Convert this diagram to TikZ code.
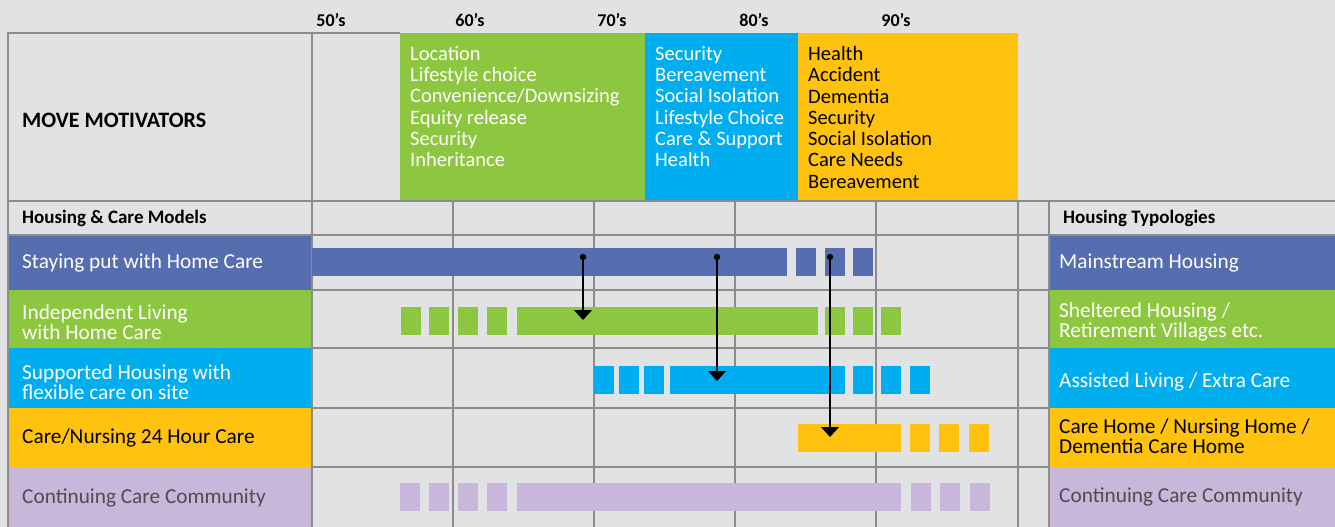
\documentclass[tikz,border=0pt]{standalone}
\usepackage{fontspec}
\setmainfont{Carlito}
\usetikzlibrary{arrows.meta}

\definecolor{bggrey}{HTML}{E1E2E4}
\definecolor{gridgrey}{HTML}{8C8C8C}
\definecolor{careblue}{HTML}{566DB0}
\definecolor{caregreen}{HTML}{8DC63F}
\definecolor{carecyan}{HTML}{00AEEF}
\definecolor{careyellow}{HTML}{FFC20E}
\definecolor{carelilac}{HTML}{C8B7DA}
\definecolor{textgrey}{HTML}{4D4D4F}

\newcommand{\firstline}{\rule{0pt}{14pt}}

\tikzset{
  gridline/.style={draw=gridgrey, line width=1.1pt},
  rowlabel/.style={anchor=west, align=left, inner sep=0pt, font=\fontsize{21.3}{20}\selectfont},
  motive/.style={anchor=north west, align=left, inner sep=0pt, font=\fontsize{20.5}{21.3}\selectfont},
  headlabel/.style={anchor=west, inner sep=0pt, font=\bfseries\fontsize{19}{19}\selectfont},
  decade/.style={inner sep=0pt, font=\bfseries\fontsize{18}{18}\selectfont},
  movearrow/.style={-{Triangle[width=18pt,length=10pt]}, line width=1.3pt},
}

\begin{document}
\begin{tikzpicture}[x=1pt, y=-1pt]
  \fill[bggrey] (0,0) rectangle (1335,527);
  \useasboundingbox (0,0) rectangle (1335,527);

  % move motivators
  \fill[caregreen] (400,33) rectangle (645,201);
  \fill[carecyan] (645,33) rectangle (798,201);
  \fill[careyellow] (798,33) rectangle (1018,201);

  % model and typology cells
  \fill[careblue] (8,235) rectangle (312,290);
  \fill[caregreen] (8,290) rectangle (312,348);
  \fill[carecyan] (8,348) rectangle (312,408);
  \fill[careyellow] (8,408) rectangle (312,467);
  \fill[carelilac] (8,467) rectangle (312,527);
  \fill[careblue] (1049,235) rectangle (1335,290);
  \fill[caregreen] (1049,290) rectangle (1335,348);
  \fill[carecyan] (1049,348) rectangle (1335,408);
  \fill[careyellow] (1049,408) rectangle (1335,467);
  \fill[carelilac] (1049,467) rectangle (1335,527);

  % grid
  \draw[gridline] (400,33) -- (8,33) -- (8,527);
  \draw[gridline] (312,33) -- (312,527);
  \draw[gridline] (8,201) -- (1335,201);
  \draw[gridline] (8,235) -- (312,235);
  \draw[gridline] (1049,235) -- (1335,235);
  \foreach \y in {235,290,348,408,467}
    \draw[gridline] (312,\y) -- (1049,\y);
  \foreach \x in {453,594,735,876,1018,1049}
    \draw[gridline] (\x,201) -- (\x,527);

  % bars
  \fill[careblue] (312,248) rectangle (787,276);
  \foreach \a in {796,825,853}
    \fill[careblue] (\a,248) rectangle ++(20,28);
  \fill[caregreen] (517,307) rectangle (818,335);
  \foreach \a in {401,429,458,487,825,853,881}
    \fill[caregreen] (\a,307) rectangle ++(20,28);
  \fill[carecyan] (670,366) rectangle (845,394);
  \foreach \a in {594,619,644,853,881,910}
    \fill[carecyan] (\a,366) rectangle ++(20,28);
  \fill[careyellow] (798,424) rectangle (901,452);
  \foreach \a in {910,939,969}
    \fill[careyellow] (\a,424) rectangle ++(20,28);
  \fill[carelilac] (517,483) rectangle (901,511);
  \foreach \a in {400,429,458,487,911,940,970}
    \fill[carelilac] (\a,483) rectangle ++(20,28);

  % moves between models
  \coordinate (from1) at (583,257);
  \coordinate (to1) at (583,320);
  \coordinate (from2) at (717,257);
  \coordinate (to2) at (717,381);
  \coordinate (from3) at (830,257);
  \coordinate (to3) at (830,437);
  \foreach \i in {1,2,3} {
    \fill (from\i) circle (3.2pt);
    \draw[movearrow] (from\i) -- (to\i);
  }

  % decades
  \node[decade] (d50) at (331,20) {50’s};
  \node[decade] (d60) at (470,20) {60’s};
  \node[decade] (d70) at (612,20) {70’s};
  \node[decade] (d80) at (754,20) {80’s};
  \node[decade] (d90) at (896,20) {90’s};

  % headings
  \node[headlabel, font=\bfseries\fontsize{22}{22}\selectfont] (movehead) at (22,120) {MOVE MOTIVATORS};
  \node[headlabel] (modelhead) at (22,218) {Housing \& Care Models};
  \node[headlabel] (typehead) at (1063,218) {Housing Typologies};

  % motivator lists
  \node[motive, text=white] (greenlist) at (410,46)
    {\firstline Location\\Lifestyle choice\\Convenience/Downsizing\\Equity release\\Security\\Inheritance};
  \node[motive, text=white] (cyanlist) at (655,46)
    {\firstline Security\\Bereavement\\Social Isolation\\Lifestyle Choice\\Care \& Support\\Health};
  \node[motive, text=black] (yellowlist) at (808,46)
    {\firstline Health\\Accident\\Dementia\\Security\\Social Isolation\\Care Needs\\Bereavement};

  % housing and care models
  \node[rowlabel, text=white] (stay) at (22,263) {Staying put with Home Care};
  \node[rowlabel, text=white] (indep) at (22,322) {Independent Living\\with Home Care};
  \node[rowlabel, text=white] (supp) at (22,382) {Supported Housing with\\flexible care on site};
  \node[rowlabel, text=black] (nursing) at (22,438) {Care/Nursing 24 Hour Care};
  \node[rowlabel, text=textgrey] (ccc) at (22,498) {Continuing Care Community};

  % housing typologies
  \node[rowlabel, text=white] (mainstream) at (1059,263) {Mainstream Housing};
  \node[rowlabel, text=white] (sheltered) at (1059,322) {Sheltered Housing /\\Retirement Villages etc.};
  \node[rowlabel, text=white] (assisted) at (1059,382) {Assisted Living / Extra Care};
  \node[rowlabel, text=black] (carehome) at (1059,436) {Care Home / Nursing Home /\\Dementia Care Home};
  \node[rowlabel, text=textgrey] (cccright) at (1059,497) {Continuing Care Community};
\end{tikzpicture}
\end{document}
